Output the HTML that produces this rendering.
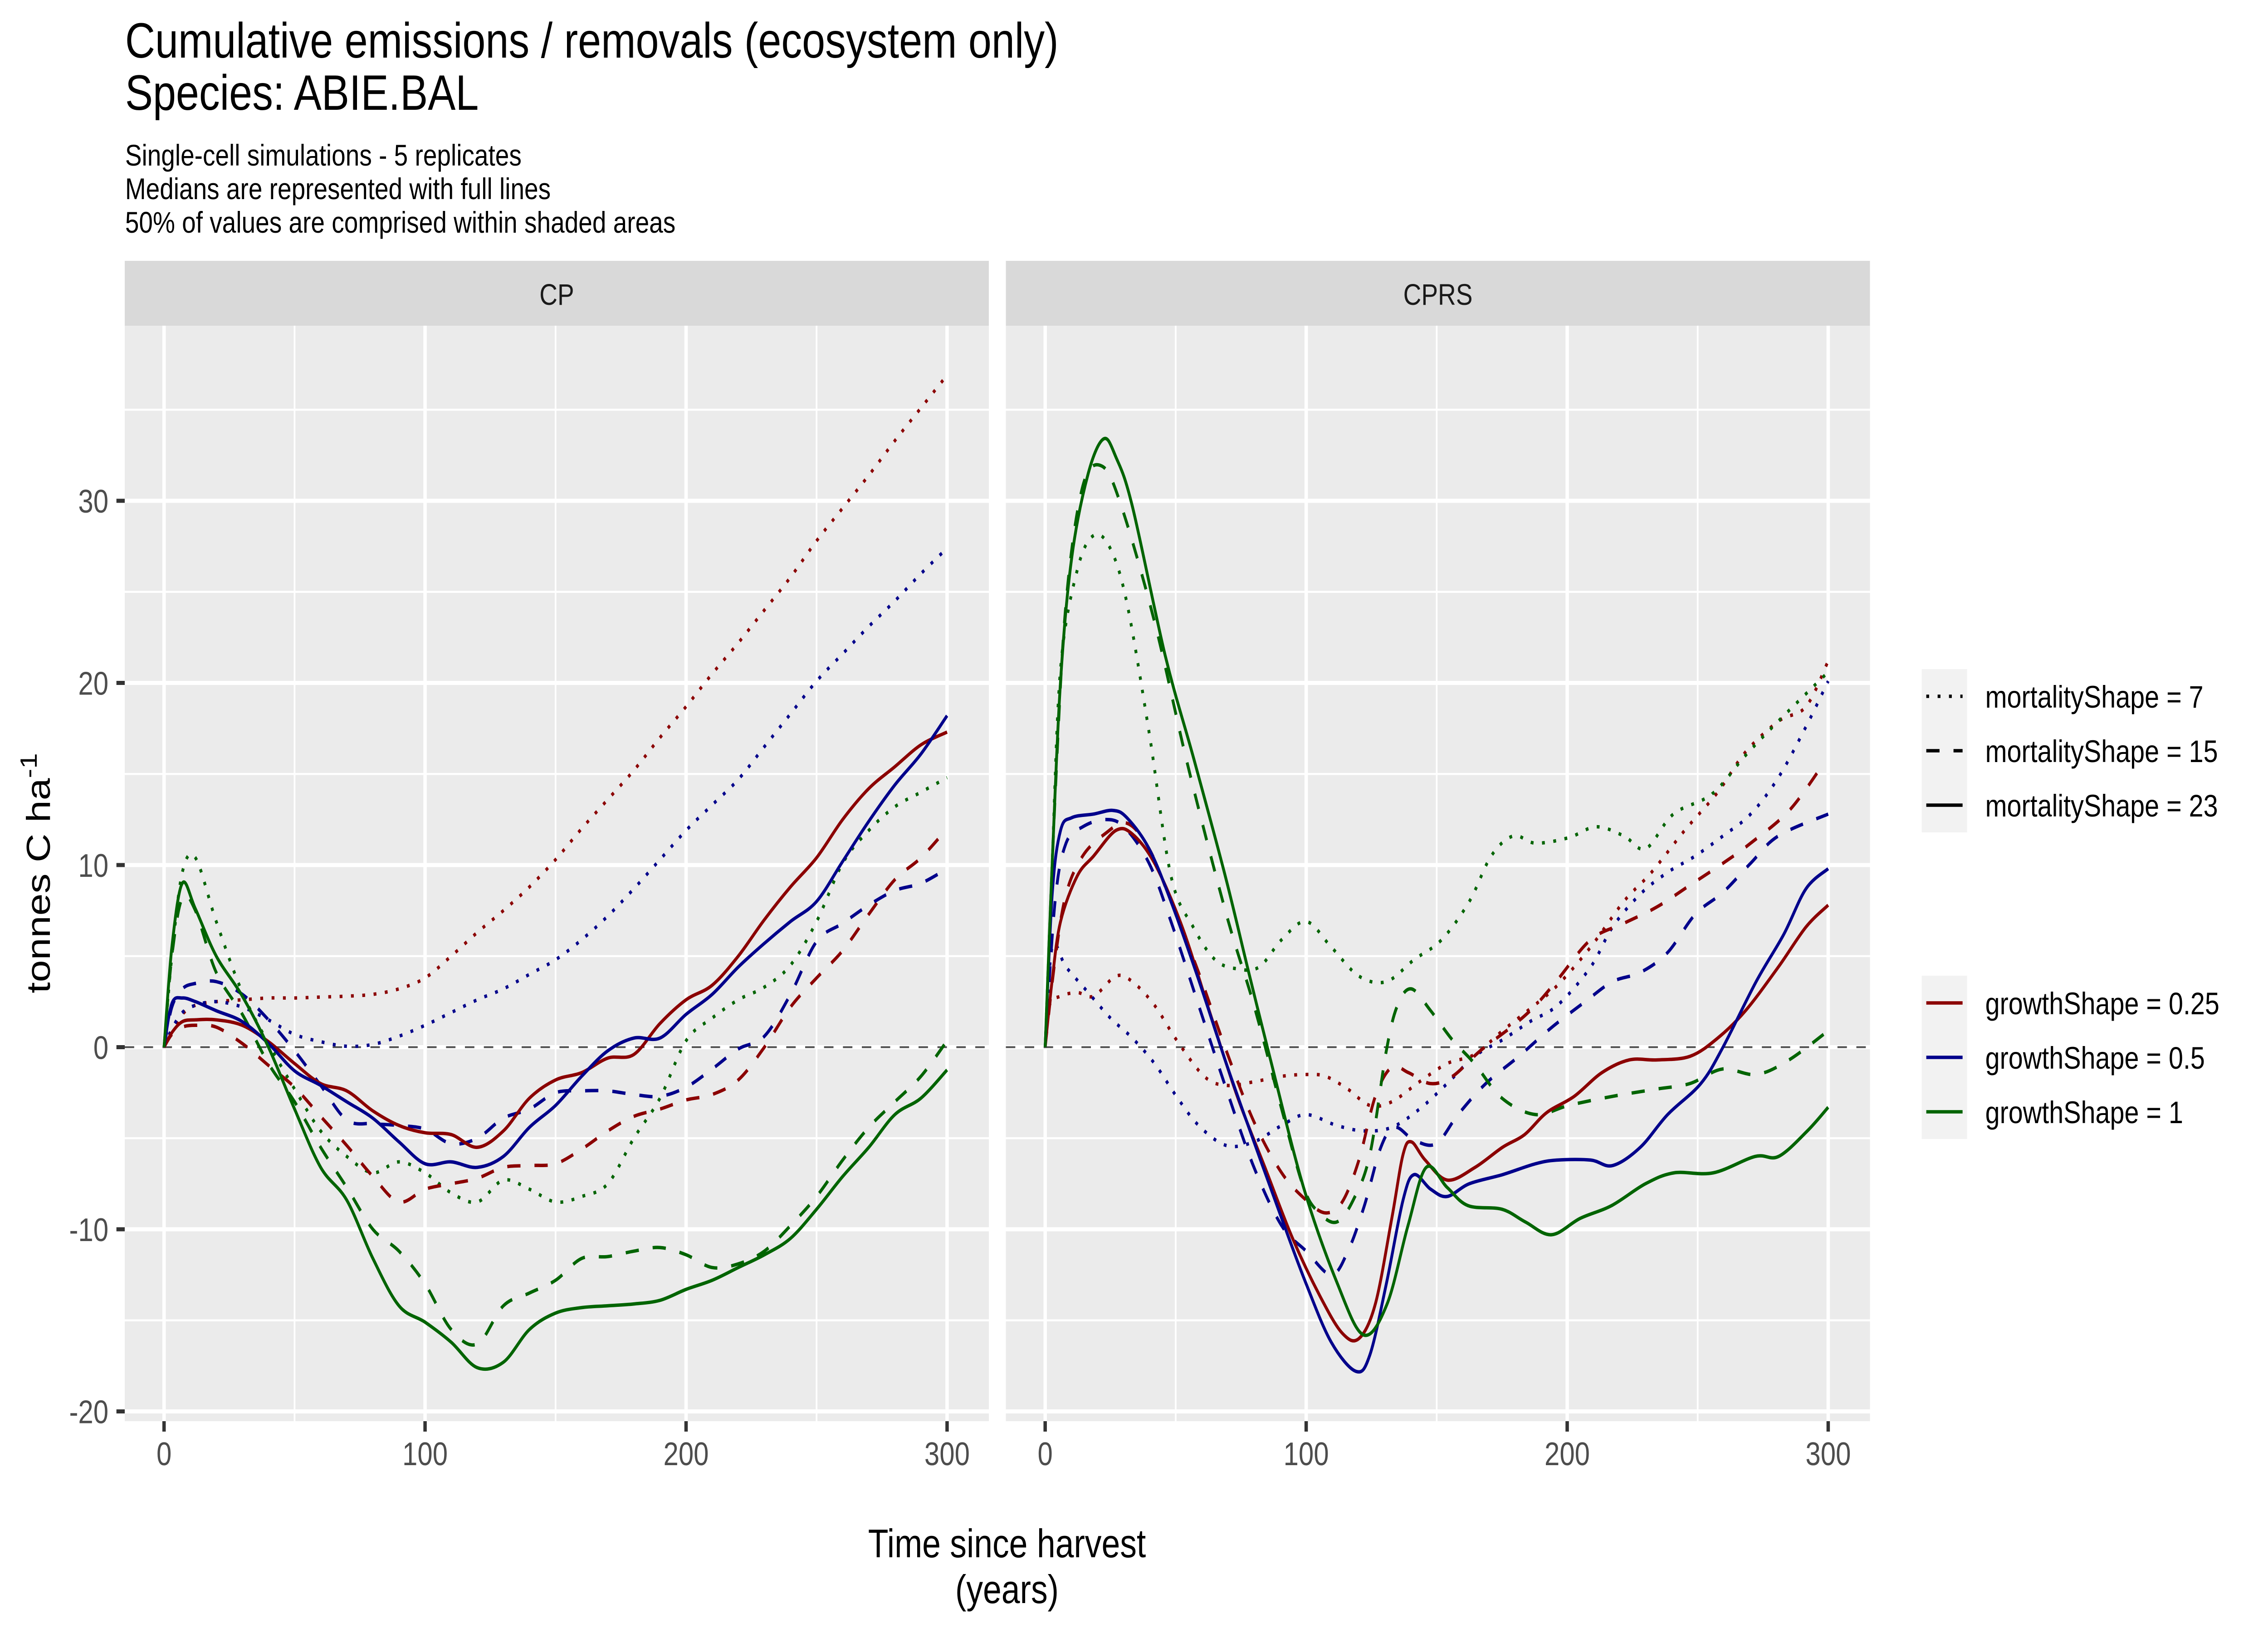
<!DOCTYPE html>
<html><head><meta charset="utf-8"><style>
html,body{margin:0;padding:0;background:#fff;width:100%;height:100%;overflow:hidden;}
svg{display:block;font-family:"Liberation Sans",sans-serif;width:100vw;height:100vh;}
</style></head><body>
<svg id="chart" viewBox="0 0 6000 3600" preserveAspectRatio="none" xmlns="http://www.w3.org/2000/svg">
<rect x="0" y="0" width="6000" height="3600" fill="#fff"/>
<g font-size="110" fill="#000">
<text x="331" y="127">Cumulative emissions / removals (ecosystem only)</text>
<text x="331" y="242">Species: ABIE.BAL</text>
</g>
<g font-size="66" fill="#000">
<text x="331" y="365">Single-cell simulations - 5 replicates</text>
<text x="331" y="439">Medians are represented with full lines</text>
<text x="331" y="513">50% of values are comprised within shaded areas</text>
</g>
<g id="panels"></g>
<text x="2664" y="3433" font-size="88" text-anchor="middle">Time since harvest</text>
<text x="2664" y="3534" font-size="88" text-anchor="middle">(years)</text>
<text transform="translate(132,1925) rotate(-90)" font-size="88" text-anchor="middle">tonnes C ha<tspan dy="-35" font-size="62">-1</tspan></text>
<g id="legend" font-size="69" fill="#000"></g>
</svg>
<script>
// ---------- data ----------
const cpYears = [0,3,7,12,20,30,40,50,60,70,80,90,100,110,120,130,140,150,160,170,180,190,200,210,220,230,240,250,260,270,280,290,300];
const cpRedDot   = [0,0.8,1.8,2.3,2.5,2.6,2.7,2.7,2.75,2.8,2.9,3.2,3.8,5.0,6.3,7.5,8.8,10.3,12,13.6,15.2,17,18.7,20.5,22.2,24,25.8,27.8,29.6,31.4,33.3,35.1,36.9];
const cpBlueDot  = [0,1.0,1.9,2.3,2.5,2.2,1.5,0.7,0.3,0.05,0.15,0.6,1.2,1.9,2.6,3.2,4.0,4.8,5.9,7.2,8.7,10.3,11.9,13.3,14.7,16.5,18.3,20.1,21.6,23.1,24.5,26,27.4];
const cpGreenDot = [0,5,9.6,10.4,6.9,3.0,0.2,-2.3,-4.6,-6.0,-6.9,-6.3,-6.9,-8.0,-8.5,-7.3,-7.8,-8.5,-8.2,-7.5,-5.0,-2.8,0.35,1.6,2.6,3.3,4.5,6.9,10.1,11.9,13.2,14.0,14.8];
const cpRedSol   = [0,0.8,1.4,1.5,1.5,1.2,0.3,-0.9,-2.0,-2.4,-3.5,-4.3,-4.7,-4.8,-5.5,-4.6,-2.8,-1.8,-1.4,-0.6,-0.4,1.3,2.6,3.4,5.0,7.0,8.8,10.4,12.5,14.2,15.4,16.6,17.3];
const cpBlueSol  = [0,2.4,2.7,2.5,2.0,1.4,0.2,-1.3,-2.1,-3.0,-3.9,-5.2,-6.4,-6.3,-6.6,-6.0,-4.4,-3.2,-1.6,-0.2,0.5,0.5,1.8,2.9,4.4,5.7,6.9,8.0,10.2,12.4,14.4,16.1,18.2];
const cpGreenSol = [0,5.5,9.0,7.6,5.0,2.8,0,-3.4,-6.6,-8.4,-11.6,-14.2,-15.1,-16.2,-17.6,-17.3,-15.5,-14.6,-14.3,-14.2,-14.1,-13.9,-13.3,-12.8,-12.1,-11.4,-10.5,-8.9,-7.1,-5.5,-3.7,-2.8,-1.25];
const cpRedDash  = [0,0.7,1.1,1.2,1.1,0.2,-1.0,-2.2,-3.8,-5.4,-7.1,-8.5,-7.8,-7.5,-7.2,-6.6,-6.5,-6.4,-5.6,-4.6,-3.8,-3.4,-2.9,-2.6,-1.8,0.0,2.2,3.8,5.3,7.3,9.2,10.4,12.0];
const cpBlueDash = [0,2.2,3.2,3.5,3.6,2.9,1.5,-0.2,-2.1,-4.0,-4.2,-4.3,-4.5,-5.3,-5.0,-3.9,-3.4,-2.5,-2.4,-2.4,-2.6,-2.7,-2.2,-1.2,-0.1,0.6,2.9,5.8,6.8,7.8,8.6,9.0,9.8];
const cpGreenDash= [0,5,8.2,7.5,4.1,1.8,-0.9,-3.0,-5.5,-7.7,-10,-11.2,-13,-15.5,-16.3,-14.2,-13.5,-12.8,-11.6,-11.5,-11.2,-11.0,-11.4,-12.1,-11.9,-11.2,-9.8,-8.2,-6.2,-4.4,-3.0,-1.6,0.35];

const crGreenSolYears = [0,2.7,5.9,10.2,16.5,22.4,27.1,33.4,46,57,69,78,86,99,112,122,131,139,146,154,162,175,184,194,205,217,230,241,256,272,281,292,300];
const crGreenSolVals  = [0,10.1,20.1,26.9,31.5,33.4,32.4,29.7,21.5,15.8,9.4,4.1,-0.5,-7.7,-13,-15.8,-14.1,-9.8,-6.6,-7.7,-8.7,-8.9,-9.6,-10.3,-9.4,-8.7,-7.5,-6.9,-6.9,-6.0,-6.0,-4.6,-3.3];
const crGreenDashYears= [0,3.8,8,14.4,21.8,29.2,42,54.6,69.4,80,90.6,99,105,111.7,118,124.4,130.7,135,140.3,147.7,156,164.5,175,187.9,200.5,217.4,234.3,247,259.5,272.5,285,300];
const crGreenDashVals = [0,13.7,24.4,30.8,31.9,29.7,23.3,15.5,7.3,2.3,-3.4,-7.7,-9.1,-9.6,-8.4,-5.9,-0.2,2.3,3.2,2.0,0.4,-0.9,-2.8,-3.7,-3.2,-2.7,-2.3,-2.0,-1.2,-1.5,-0.7,0.9];
const crGreenDotYears = [0,2.7,5.9,12.3,18.6,24.9,31.3,39.8,48.2,56.7,65.1,73.6,82,90.6,100,109.6,120.2,130.7,141.3,151.9,162.5,170.9,179.4,187.9,200.5,211.1,221.7,230.1,240.7,255.5,268.2,280.9,300];
const crGreenDotVals  = [0,10.1,20.8,26.2,28.1,27.4,24.4,17.3,9.4,6.6,4.8,4.3,4.4,5.9,6.9,5.5,3.9,3.6,4.8,5.9,8.0,10.5,11.6,11.2,11.5,12.1,11.6,10.9,12.8,13.9,16.0,17.9,20.6];
const crBlueSolYears  = [0,2.7,5.9,10.2,18.6,26,31.3,39.8,48.2,58.8,69.4,80,90.6,100,109.6,119.1,124.4,130.7,137.1,141.3,147.7,154,162.5,175.2,187.9,196.3,209,217.4,228,238.5,251.2,259.7,272.4,283,291.5,300];
const crBlueSolVals   = [0,8.4,11.9,12.6,12.8,13.0,12.6,10.9,8.0,3.7,-0.9,-5.2,-9.4,-13,-16.2,-17.8,-16.9,-13,-8.4,-7.0,-7.8,-8.2,-7.5,-7.0,-6.4,-6.2,-6.2,-6.5,-5.5,-3.7,-2.0,0,3.6,6.2,8.7,9.8];
const crBlueDashYears = [0,3.8,8,14.4,22.8,30.2,39.8,48.2,58.8,69.4,80,90.6,100,109.6,116,122.3,128.6,134,141.3,149.8,158.2,168.8,181.5,194.2,206.9,217.4,228,238.5,249.1,259.7,270.3,280.9,300];
const crBlueDashVals  = [0,8.0,11.2,12.1,12.5,12.1,10.1,6.9,2.3,-2.3,-6.6,-9.8,-11.2,-12.5,-11.2,-8.7,-5.5,-4.4,-5.1,-5.3,-3.7,-2.0,-0.5,1.1,2.5,3.6,4.1,5.2,7.3,8.5,10.1,11.6,12.8];
const crBlueDotYears  = [0,2.7,8,16.5,25,33.4,41.9,50.3,58.8,69.4,80,90.6,100,111.7,122.3,132.8,143.4,154,164.5,175.2,185.7,196.3,209,217.4,228,238.5,249.1,259.7,270.3,280.9,291.5,300];
const crBlueDotVals   = [0,5.5,4.4,3.0,1.6,0.5,-0.9,-2.7,-4.3,-5.4,-5.2,-4.3,-3.7,-4.3,-4.6,-4.4,-3.4,-2.0,-0.5,0.4,1.4,2.3,4.4,6.6,8.4,9.6,10.5,11.6,12.8,14.8,17.6,20.1];
const crRedSolYears   = [0,2.7,5.9,12.3,18.6,27.1,33.4,41.9,52.5,63.1,73.6,84.2,94.8,105.4,113.8,120.2,126.5,132.8,137.1,140.3,145.6,154.1,164.7,175.2,183.7,192.1,202.7,213.3,223.8,234.4,247.1,257.7,268.3,280.9,291.5,300];
const crRedSolVals    = [0,3.7,6.9,9.4,10.5,11.9,11.7,10.1,6.6,1.9,-2.7,-6.6,-10.5,-13.7,-15.7,-16.0,-14.1,-9.4,-5.9,-5.2,-6.2,-7.3,-6.6,-5.5,-4.8,-3.6,-2.7,-1.4,-0.7,-0.7,-0.5,0.5,2.0,4.4,6.6,7.8];
const crRedDashYears  = [0,3.8,8,14.4,22.8,31.3,39.8,48.2,58.8,69.4,80,90.6,100,107.4,113.8,120.2,126.5,132.8,139.2,147.7,156.1,166.7,179.4,187.9,196.3,209,221.7,234.4,247.1,259.7,270.3,285.1,297.9];
const crRedDashVals   = [0,4.8,8.4,10.5,11.7,12.3,10.9,8.0,4.1,-0.2,-4.1,-6.9,-8.4,-9.1,-8.5,-6.2,-2.7,-1.1,-1.4,-2.0,-1.6,-0.2,1.2,2.3,3.7,5.9,6.8,7.7,8.9,10.1,11.2,13.0,15.5];
const crRedDotYears   = [0,1.7,5.9,12.3,18.6,27.1,33.4,41.9,50.3,60.9,69.4,80,90.6,100,107.4,115.9,124.4,132.8,143.4,154,164.5,175.2,185.7,196.3,209,221.7,232.3,245,257.7,268.3,281,291.5,300];
const crRedDotVals    = [0,2.3,2.8,3.0,2.8,3.9,3.6,2.3,0.4,-1.6,-2.1,-1.9,-1.6,-1.5,-1.6,-2.3,-3.2,-3.0,-1.9,-0.9,-0.4,0.9,2.1,3.4,5.5,8.0,9.6,11.9,14.0,16.2,17.9,18.7,21.2];

const panelNames = ["CP","CPRS"];
const xTicks = [0,100,200,300];
const yTicks = [-20,-10,0,10,20,30];
const mortLabels = ["mortalityShape = 7","mortalityShape = 15","mortalityShape = 23"];
const growthLabels = ["growthShape = 0.25","growthShape = 0.5","growthShape = 1"];

// ---------- layout ----------
const NS="http://www.w3.org/2000/svg";
const colors={red:"#8B0000",blue:"#00008B",green:"#006400"};
const dashes={dot:"7.5 22.5",dash:"35 37",solid:"none"};
const panelTop=718, panelBottom=3133, stripTop=575;
const panelsX=[{left:330,right:2616,x0:434},{left:2661,right:4947,x0:2765}];
const pxPerYear=6.905;
const yScale=v=>2308.5-v*40.15;
function mk(tag,attrs,parent){const e=document.createElementNS(NS,tag);for(const k in attrs)e.setAttribute(k,attrs[k]);parent.appendChild(e);return e;}
function pathD(xs,ys){
  let d="M"+xs[0].toFixed(1)+","+ys[0].toFixed(1);
  for(let i=0;i<xs.length-1;i++){
    const x0=xs[Math.max(i-1,0)],y0=ys[Math.max(i-1,0)],x1=xs[i],y1=ys[i],x2=xs[i+1],y2=ys[i+1],x3=xs[Math.min(i+2,xs.length-1)],y3=ys[Math.min(i+2,xs.length-1)];
    const c1x=x1+(x2-x0)/6,c1y=y1+(y2-y0)/6,c2x=x2-(x3-x1)/6,c2y=y2-(y3-y1)/6;
    d+=" C"+c1x.toFixed(1)+","+c1y.toFixed(1)+" "+c2x.toFixed(1)+","+c2y.toFixed(1)+" "+x2.toFixed(1)+","+y2.toFixed(1);
  }
  return d;
}
const seriesByPanel=[
 [["red-dotted","red","dot",cpYears,cpRedDot],["blue-dotted","blue","dot",cpYears,cpBlueDot],["green-dotted","green","dot",cpYears,cpGreenDot],
  ["red-dashed","red","dash",cpYears,cpRedDash],["blue-dashed","blue","dash",cpYears,cpBlueDash],["green-dashed","green","dash",cpYears,cpGreenDash],
  ["red-solid","red","solid",cpYears,cpRedSol],["blue-solid","blue","solid",cpYears,cpBlueSol],["green-solid","green","solid",cpYears,cpGreenSol]],
 [["red-dotted","red","dot",crRedDotYears,crRedDotVals],["blue-dotted","blue","dot",crBlueDotYears,crBlueDotVals],["green-dotted","green","dot",crGreenDotYears,crGreenDotVals],
  ["red-dashed","red","dash",crRedDashYears,crRedDashVals],["blue-dashed","blue","dash",crBlueDashYears,crBlueDashVals],["green-dashed","green","dash",crGreenDashYears,crGreenDashVals],
  ["red-solid","red","solid",crRedSolYears,crRedSolVals],["blue-solid","blue","solid",crBlueSolYears,crBlueSolVals],["green-solid","green","solid",crGreenSolYears,crGreenSolVals]]
];
const root=document.getElementById("panels");
panelNames.forEach((name,pi)=>{
  const P=panelsX[pi];
  const xS=yr=>P.x0+yr*pxPerYear;
  const g=mk("g",{},root);
  
  
  const strip=mk("rect",{x:P.left,y:stripTop,width:P.right-P.left,height:panelTop-stripTop,fill:"#d9d9d9"},g);
  
  
  const st=mk("text",{x:(P.left+P.right)/2,y:672,"font-size":66,"text-anchor":"middle",fill:"#1a1a1a"},g);
  st.textContent=name;
  
  
  const bg=mk("rect",{x:P.left,y:panelTop,width:P.right-P.left,height:panelBottom-panelTop,fill:"#ebebeb"},g);
  
  
  for(let v=-15;v<=35;v+=10){const l=mk("line",{x1:P.left,x2:P.right,y1:yScale(v),y2:yScale(v),stroke:"#fff","stroke-width":4.5},g);}
  for(let v=-50;v<=350;v+=100){if(xS(v)>P.left&&xS(v)<P.right){const l=mk("line",{x1:xS(v),x2:xS(v),y1:panelTop,y2:panelBottom,stroke:"#fff","stroke-width":4.5},g);}}
  yTicks.forEach(v=>{const l=mk("line",{x1:P.left,x2:P.right,y1:yScale(v),y2:yScale(v),stroke:"#fff","stroke-width":9},g);});
  xTicks.forEach(v=>{
    const l=mk("line",{x1:xS(v),x2:xS(v),y1:panelTop,y2:panelBottom,stroke:"#fff","stroke-width":9},g);
    
    
    const t=mk("line",{x1:xS(v),x2:xS(v),y1:panelBottom,y2:panelBottom+23,stroke:"#333","stroke-width":9},g);
    
    
    const tl=mk("text",{x:xS(v),y:3230,"font-size":72,"text-anchor":"middle",fill:"#4d4d4d"},g);
    tl.textContent=String(v);
    
    
  });
  const z=mk("line",{x1:P.left,x2:P.right,y1:yScale(0),y2:yScale(0),stroke:"#4d4d4d","stroke-width":4,"stroke-dasharray":"25 25"},g);
  
  
  seriesByPanel[pi].forEach(s=>{
    const [nm,col,dsh,yrs,vals]=s;
    const p=mk("path",{d:pathD(yrs.map(xS),vals.map(yScale)),fill:"none",stroke:colors[col],"stroke-width":7.5,"stroke-linejoin":"round","stroke-linecap":"butt"},g);
    if(dsh!=="solid")p.setAttribute("stroke-dasharray",dashes[dsh]);
    
    
  });
});
// y axis
const ya=document.getElementById("panels");
yTicks.forEach(v=>{
  const t=mk("line",{x1:308,x2:330,y1:yScale(v),y2:yScale(v),stroke:"#333","stroke-width":9},ya);
  
  
  const tl=mk("text",{x:287,y:yScale(v)+26,"font-size":72,"text-anchor":"end",fill:"#4d4d4d"},ya);
  tl.textContent=String(v);
  
  
});
// legend
const lg=document.getElementById("legend");
function legendBlock(top,labels,keyFn,nm){
  const bx=mk("rect",{x:5084,y:top,width:120,height:360,fill:"#f2f2f2"},lg);
  
  
  labels.forEach((lab,i)=>{
    const cy=top+60+i*120;
    const k=mk("line",Object.assign({x1:5096,x2:5192,y1:cy,y2:cy,"stroke-width":7.5},keyFn(i)),lg);
    
    
    const t=mk("text",{x:5252,y:cy+25},lg);
    t.textContent=lab;
    
    
  });
}
legendBlock(1475,mortLabels,i=>{const a={stroke:"#000"};if(i===0)a["stroke-dasharray"]="7.5 22.5";if(i===1)a["stroke-dasharray"]="35 37";return a;},"mortality");
legendBlock(2151,growthLabels,i=>({stroke:[colors.red,colors.blue,colors.green][i]}),"growth");
</script>
</body></html>
